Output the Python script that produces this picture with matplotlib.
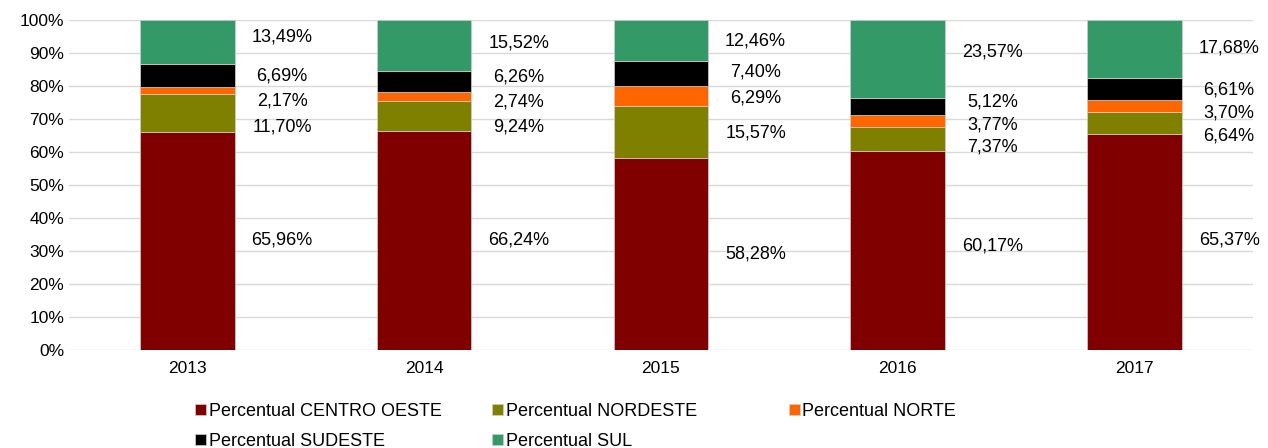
import matplotlib.pyplot as plt
import numpy as np

plt.rcParams["font.family"] = ["Liberation Sans", "DejaVu Sans"]

years = ["2013", "2014", "2015", "2016", "2017"]
series = [
    "Percentual CENTRO OESTE",
    "Percentual NORDESTE",
    "Percentual NORTE",
    "Percentual SUDESTE",
    "Percentual SUL",
]
centro_oeste = [65.96, 66.24, 58.28, 60.17, 65.37]
nordeste = [11.70, 9.24, 15.57, 7.37, 6.64]
norte = [2.17, 2.74, 6.29, 3.77, 3.70]
sudeste = [6.69, 6.26, 7.40, 5.12, 6.61]
sul = [13.49, 15.52, 12.46, 23.57, 17.68]
colors = ["#800000", "#808000", "#ff6600", "#000000", "#339966"]

# label heights (in % of axis) for each series, per year
label_y = [
    [33.3, 33.3, 29.1, 31.5, 33.3],
    [67.6, 67.6, 65.8, 61.5, 64.8],
    [75.5, 75.2, 76.4, 68.2, 71.8],
    [83.0, 82.7, 84.2, 75.2, 78.8],
    [94.8, 93.0, 93.6, 90.3, 91.5],
]

values = [centro_oeste, nordeste, norte, sudeste, sul]

fig = plt.figure(figsize=(12.68, 4.48), dpi=100)
ax = fig.add_axes([0.0544, 0.2188, 0.9336, 0.7366])

x = np.arange(len(years))
bottom = np.zeros(len(years))
handles = []
for name, vals, col in zip(series, values, colors):
    vals = np.array(vals)
    h = ax.bar(x, vals, 0.4, bottom=bottom, color=col, label=name,
               edgecolor="#d0d0d0", linewidth=0.5, zorder=2)
    handles.append(h)
    bottom += vals

for vals, ys in zip(values, label_y):
    for i, (v, yy) in enumerate(zip(vals, ys)):
        ax.text(x[i] + 0.40, yy, f"{v:.2f}%".replace(".", ","),
                ha="center", va="center", fontsize=13, color="#000000", zorder=3)

ax.set_xlim(-0.5, len(years) - 0.5)
ax.set_ylim(0, 100)
ax.set_yticks(np.arange(0, 101, 10))
ax.set_yticklabels([f"{t}%" for t in range(0, 101, 10)])
ax.set_xticks(x)
ax.set_xticklabels(years)
ax.tick_params(length=0, labelsize=12.5, colors="#000000")
ax.tick_params(axis="x", pad=8)
ax.grid(axis="y", color="#d9d9d9", linewidth=1, zorder=0)
for s in ax.spines.values():
    s.set_visible(False)

# legend laid out row by row in three columns
columns = [[0, 3], [1, 4], [2]]
col_x = [0.1538, 0.388, 0.6222]
for idx, cx in zip(columns, col_x):
    fig.legend([handles[i] for i in idx], [series[i] for i in idx],
               loc="upper left", bbox_to_anchor=(cx, 0.101), ncol=1,
               frameon=False, fontsize=13, handlelength=0.6,
               handleheight=0.6, handletextpad=0.15, labelspacing=0.72,
               borderaxespad=0, borderpad=0)

fig.savefig("out.png", dpi=100)
